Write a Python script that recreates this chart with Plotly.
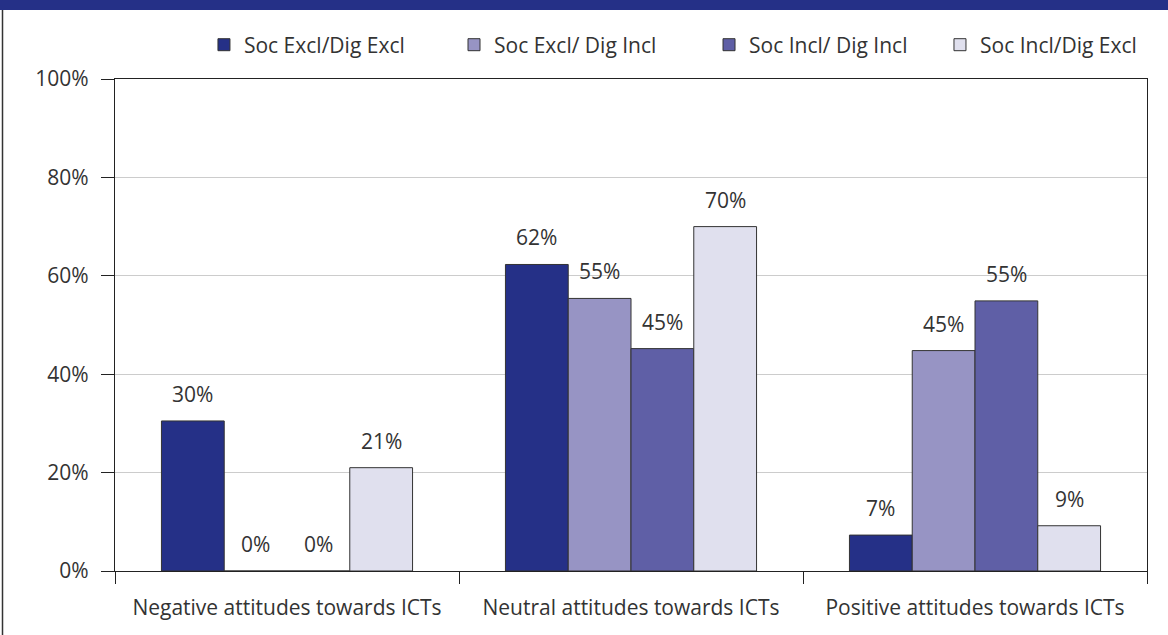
import plotly.graph_objects as go

categories = [
    "Negative attitudes towards ICTs",
    "Neutral attitudes towards ICTs",
    "Positive attitudes towards ICTs",
]
series_names = [
    "Soc Excl/Dig Excl",
    "Soc Excl/ Dig Incl",
    "Soc Incl/ Dig Incl",
    "Soc Incl/Dig Excl",
]
soc_excl_dig_excl = [30.5, 62.3, 7.3]
soc_excl_dig_incl = [0.0, 55.4, 44.8]
soc_incl_dig_incl = [0.0, 45.2, 54.9]
soc_incl_dig_excl = [21.0, 70.0, 9.2]
y_ticks = [0, 20, 40, 60, 80, 100]
y_tick_labels = ["0%", "20%", "40%", "60%", "80%", "100%"]

series_values = [soc_excl_dig_excl, soc_excl_dig_incl, soc_incl_dig_incl, soc_incl_dig_excl]
colors = ["#253087", "#9794C4", "#5F5FA6", "#E0E0EE"]

FONT = "Open Sans"
TEXT = "#333333"
FS = 21
BAR_PX = 62.75  # width of one bar in the grouped layout

# each series gets its own legend so the entries can be spaced like the original
legend_ids = ["legend", "legend2", "legend3", "legend4"]
legend_x = [0.0862, 0.3285, 0.5756, 0.7994]

fig = go.Figure()
for name, vals, col, lid in zip(series_names, series_values, colors, legend_ids):
    fig.add_trace(go.Bar(
        x=categories, y=vals, name=name, legend=lid,
        marker=dict(color=col, line=dict(color="#333333", width=1)),
    ))

# value labels sit well above each bar
for i, vals in enumerate(series_values):
    for cat, v in zip(categories, vals):
        fig.add_annotation(
            x=cat, y=v, text=f"{round(v)}%", showarrow=False,
            xshift=(i - 1.5) * BAR_PX, yshift=27, yanchor="middle",
            font=dict(family=FONT, size=FS, color=TEXT),
        )

# header band and left frame line
fig.add_shape(type="rect", xref="paper", yref="paper",
              xsizemode="pixel", ysizemode="pixel", xanchor=0, yanchor=1,
              x0=-116, x1=1060, y0=69, y1=90,
              fillcolor="#253087", line_width=0, layer="above")
fig.add_shape(type="line", xref="paper", yref="paper",
              xsizemode="pixel", ysizemode="pixel", xanchor=0, yanchor=1,
              x0=-112.5, x1=-112.5, y0=69, y1=-600,
              line=dict(color="#333333", width=1.5))

legends = {}
for lid, lx in zip(legend_ids, legend_x):
    legends[lid] = dict(
        orientation="h", x=lx, xanchor="left", y=1.069, yanchor="middle",
        font=dict(family=FONT, size=FS, color=TEXT),
        bgcolor="rgba(0,0,0,0)",
    )

fig.update_layout(
    width=1168, height=635,
    margin=dict(l=115, r=21, t=79, b=64, autoexpand=False),
    barmode="group", bargap=0.27, bargroupgap=0,
    plot_bgcolor="white", paper_bgcolor="white",
    font=dict(family=FONT, size=FS, color=TEXT),
    showlegend=True,
    **legends,
)
fig.update_xaxes(
    showline=True, linecolor="#222222", linewidth=1.2, mirror=True,
    ticks="outside", tickson="boundaries", ticklen=12, tickcolor="#222222",
    ticklabelstandoff=18, showgrid=False, tickfont=dict(size=FS),
)
fig.update_yaxes(
    range=[0, 100], tickmode="array", tickvals=y_ticks, ticktext=y_tick_labels,
    showline=True, linecolor="#222222", linewidth=1.2, mirror=True,
    ticks="outside", ticklen=13, tickcolor="#222222", ticklabelstandoff=8,
    showgrid=True, gridcolor="#CCCCCC", gridwidth=1, zeroline=False,
    tickfont=dict(size=FS),
)

# drop the browser's default body margin so the figure fills the window
fig.write_html(
    "out.html",
    config={"displayModeBar": False},
    post_script="document.body.style.margin = '0';",
)
